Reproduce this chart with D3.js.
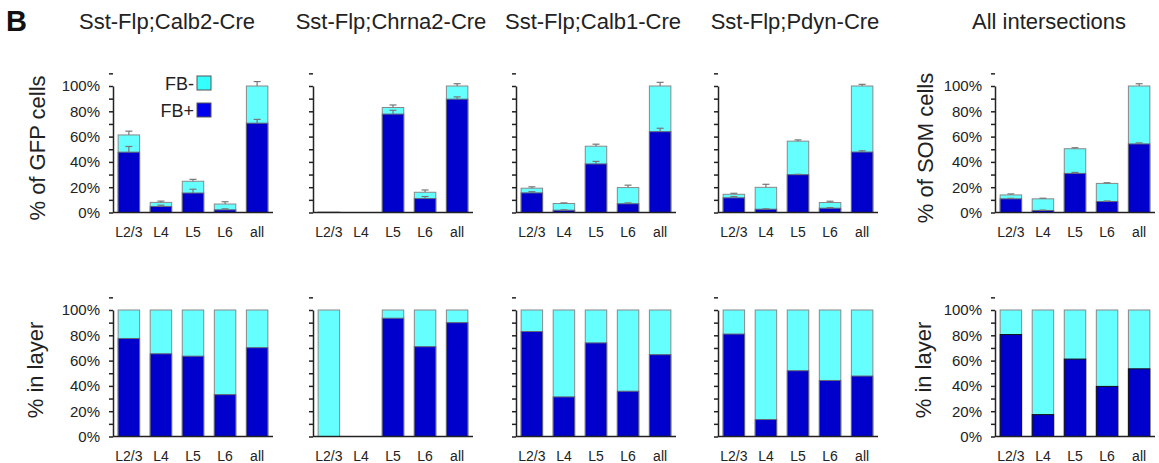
<!doctype html>
<html lang="en">
<head>
<meta charset="utf-8">
<title>FB+ / FB- by layer</title>
<style>
  body { margin: 0; background: white; }
  svg { font-family: "Liberation Sans", Arial, sans-serif; }
  .axis path, .axis line { stroke: #222; stroke-width: 1.5; }
  .axis text { fill: #222; font-size: 15px; }
  .xlab { fill: #222; font-size: 14px; }
  .title { fill: #222; font-size: 22px; }
  .ylab { fill: #222; font-size: 22px; }
</style>
</head>
<body>
<div id="chart"></div>
<script src="https://d3js.org/d3.v7.min.js"></script>
<script>
// ---- data ----
var layers = ["L2/3", "L4", "L5", "L6", "all"];
var panelTitles = ["Sst-Flp;Calb2-Cre", "Sst-Flp;Chrna2-Cre", "Sst-Flp;Calb1-Cre", "Sst-Flp;Pdyn-Cre", "All intersections"];
var topYLabels = ["% of GFP cells", null, null, null, "% of SOM cells"];
var bottomYLabel = "% in layer";
var yTickLabels = ["0%", "20%", "40%", "60%", "80%", "100%"];
var legendLabels = ["FB-", "FB+"];

// top row: % of cells, total (FB+ and FB-) and FB+ part, with upper error bars
var totalPct = [
  [61.3, 8.0, 24.7, 6.7, 100],
  [0.3, 0, 83.0, 16.0, 100],
  [19.2, 7.1, 52.4, 19.7, 100],
  [14.4, 19.9, 56.4, 7.9, 100],
  [13.9, 10.8, 50.4, 23.0, 100]
];
var fbPosPct = [
  [47.7, 4.8, 15.4, 2.1, 70.6],
  [0, 0, 77.8, 11.0, 89.6],
  [15.5, 1.8, 38.4, 6.9, 63.9],
  [11.6, 2.6, 29.9, 3.4, 47.8],
  [10.8, 1.6, 30.9, 8.7, 54.2]
];
var totalErr = [
  [3.0, 1.0, 1.5, 1.8, 3.5],
  [0, 0, 2.0, 1.8, 1.8],
  [1.1, 0.5, 1.6, 1.9, 2.9],
  [0.8, 2.4, 1.0, 1.0, 1.3],
  [0.8, 0.5, 0.8, 0.5, 1.8]
];
var fbPosErr = [
  [4.5, 1.0, 3.0, 0.8, 3.0],
  [0, 0, 3.0, 1.6, 1.8],
  [1.0, 0.3, 2.0, 0.7, 2.7],
  [1.0, 0.3, 0.3, 0.5, 1.0],
  [0.4, 0.3, 0.8, 0.4, 0.8]
];
// bottom row: % FB+ within each layer (null = no cells)
var fbPosInLayer = [
  [77.5, 65.4, 63.5, 33.1, 70.2],
  [0, null, 93.5, 71.0, 90.0],
  [83.0, 31.3, 74.0, 35.8, 64.7],
  [81.0, 13.4, 52.0, 44.3, 47.8],
  [80.6, 17.3, 61.2, 39.6, 53.5]
];

// ---- layout ----
var W = 1159, H = 463;
var axisX = [113, 313, 516, 718, 995];
var axisW = 160;
var titleX = [167, 391, 593, 795, 1049];
var ylabX = [45, null, null, null, 933];
var rows = [{ base: 212.5, full: 86 }, { base: 436.5, full: 310 }];

var cBlue = "#0000cc", cCyan = "#66ffff";

var svg = d3.select("#chart").append("svg")
    .attr("width", W).attr("height", H);

svg.append("text")
    .attr("x", 6).attr("y", 31)
    .attr("font-size", "29px").attr("font-weight", "bold")
    .attr("fill", "#111")
    .text("B");

function yScale(row) {
    var r = rows[row];
    return d3.scaleLinear().domain([0, 100]).range([r.base, r.full]);
}

function drawAxes(g, x0, y, labeled) {
    var ticks = d3.range(0, 111, 10);
    var yAxis = d3.axisLeft(y)
        .tickValues(ticks)
        .tickSize(4)
        .tickSizeOuter(0)
        .tickPadding(9)
        .tickFormat(function(d) {
            if (!labeled) return "";
            var i = yTickLabels.indexOf(d + "%");
            return i >= 0 ? yTickLabels[i] : "";
        });
    g.append("g").attr("class", "axis")
        .attr("transform", "translate(" + x0 + ",0)")
        .call(yAxis);
    g.append("line")
        .attr("x1", x0).attr("x2", x0 + axisW)
        .attr("y1", y(0)).attr("y2", y(0))
        .attr("stroke", "#222").attr("stroke-width", 1.5);
}

function drawXLabels(g, x, y) {
    g.selectAll("text.xlab").data(layers).enter()
        .append("text").attr("class", "xlab")
        .attr("x", function(d) { return x(d) + x.bandwidth() / 2; })
        .attr("y", y(0) + 24)
        .attr("text-anchor", "middle")
        .text(function(d) { return d; });
}

panelTitles.forEach(function(title, p) {
    var x0 = axisX[p];
    var x = d3.scaleBand().domain(layers)
        .range([x0, x0 + axisW])
        .paddingInner(0.33).paddingOuter(0.16);
    var bw = x.bandwidth();

    svg.append("text").attr("class", "title")
        .attr("x", titleX[p]).attr("y", 29)
        .attr("text-anchor", "middle")
        .text(title);

    // ---------- top row ----------
    var yT = yScale(0);
    var gT = svg.append("g");
    var topData = layers.map(function(l, i) {
        return { layer: l, total: totalPct[p][i], pos: fbPosPct[p][i],
                 eT: totalErr[p][i], eP: fbPosErr[p][i] };
    });

    // FB- part (cyan) is the full stack, FB+ drawn on top
    gT.selectAll("rect.neg").data(topData).enter().append("rect")
        .attr("x", function(d) { return x(d.layer); })
        .attr("width", bw)
        .attr("y", function(d) { return yT(d.total); })
        .attr("height", function(d) { return yT(0) - yT(d.total); })
        .attr("fill", cCyan).attr("stroke", "#888").attr("stroke-width", 1);
    gT.selectAll("rect.pos").data(topData.filter(function(d) { return d.pos > 0; })).enter().append("rect")
        .attr("x", function(d) { return x(d.layer); })
        .attr("width", bw)
        .attr("y", function(d) { return yT(d.pos); })
        .attr("height", function(d) { return yT(0) - yT(d.pos); })
        .attr("fill", cBlue).attr("stroke", "#667").attr("stroke-width", 1);

    // error bars (upper half only)
    var errs = [];
    topData.forEach(function(d) {
        if (d.eT > 0) errs.push({ layer: d.layer, v: d.total, e: d.eT });
        if (d.eP > 0) errs.push({ layer: d.layer, v: d.pos, e: d.eP });
    });
    var eg = gT.selectAll("g.err").data(errs).enter().append("g")
        .attr("stroke", "#777").attr("stroke-width", 1.2);
    eg.append("line")
        .attr("x1", function(d) { return x(d.layer) + bw / 2; })
        .attr("x2", function(d) { return x(d.layer) + bw / 2; })
        .attr("y1", function(d) { return yT(d.v); })
        .attr("y2", function(d) { return yT(d.v + d.e); });
    eg.append("line")
        .attr("x1", function(d) { return x(d.layer) + bw / 2 - 3.5; })
        .attr("x2", function(d) { return x(d.layer) + bw / 2 + 3.5; })
        .attr("y1", function(d) { return yT(d.v + d.e); })
        .attr("y2", function(d) { return yT(d.v + d.e); });

    drawAxes(gT, x0, yT, topYLabels[p] !== null);
    drawXLabels(gT, x, yT);

    if (topYLabels[p]) {
        gT.append("text").attr("class", "ylab")
            .attr("transform", "translate(" + ylabX[p] + ",148) rotate(-90)")
            .attr("text-anchor", "middle")
            .text(topYLabels[p]);
    }

    // ---------- bottom row ----------
    var yB = yScale(1);
    var gB = svg.append("g");
    var botData = layers.map(function(l, i) {
        return { layer: l, pos: fbPosInLayer[p][i] };
    }).filter(function(d) { return d.pos !== null; });

    gB.selectAll("rect.neg").data(botData).enter().append("rect")
        .attr("x", function(d) { return x(d.layer); })
        .attr("width", bw)
        .attr("y", yB(100))
        .attr("height", yB(0) - yB(100))
        .attr("fill", cCyan).attr("stroke", "#888").attr("stroke-width", 1);
    gB.selectAll("rect.pos").data(botData.filter(function(d) { return d.pos > 0; })).enter().append("rect")
        .attr("x", function(d) { return x(d.layer); })
        .attr("width", bw)
        .attr("y", function(d) { return yB(d.pos); })
        .attr("height", function(d) { return yB(0) - yB(d.pos); })
        .attr("fill", cBlue)
        .attr("stroke", p === 4 ? "#111" : "#667").attr("stroke-width", 1);

    drawAxes(gB, x0, yB, topYLabels[p] !== null);
    drawXLabels(gB, x, yB);

    if (topYLabels[p]) {
        gB.append("text").attr("class", "ylab")
            .attr("transform", "translate(" + (ylabX[p] - 2) + ",370) rotate(-90)")
            .attr("text-anchor", "middle")
            .text(bottomYLabel);
    }
});

// legend in first panel
var legend = svg.append("g");
var legendColors = ["#33ffff", "#0000ee"];
legendLabels.forEach(function(lab, i) {
    var yy = 76 + i * 27;
    legend.append("rect")
        .attr("x", 197).attr("y", yy)
        .attr("width", 14).attr("height", 14)
        .attr("fill", legendColors[i]).attr("stroke", "#555").attr("stroke-width", 1);
    legend.append("text")
        .attr("x", 194).attr("y", yy + 13.5)
        .attr("text-anchor", "end")
        .attr("font-size", "18px").attr("fill", "#222")
        .text(lab);
});
</script>
</body>
</html>
